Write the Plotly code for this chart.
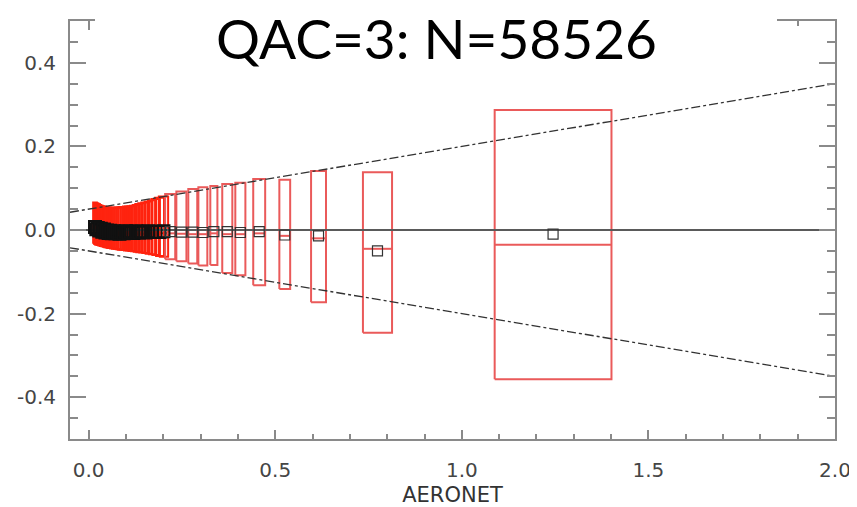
import plotly.graph_objects as go

# ---------------- data ----------------
# dense, heavily overlapping bins at low AOD
dense_lo = [0.012, 0.015, 0.019, 0.023, 0.027, 0.031, 0.035, 0.039, 0.043, 0.047,
            0.051, 0.055, 0.060, 0.065, 0.070, 0.075, 0.080, 0.086, 0.092, 0.098,
            0.104, 0.111, 0.118, 0.125, 0.133, 0.141, 0.150, 0.159, 0.168, 0.178, 0.188]
dense_hi = [0.022, 0.026, 0.030, 0.034, 0.038, 0.042, 0.047, 0.051, 0.055, 0.060,
            0.064, 0.069, 0.074, 0.079, 0.085, 0.090, 0.096, 0.102, 0.108, 0.115,
            0.122, 0.129, 0.137, 0.145, 0.153, 0.162, 0.171, 0.181, 0.191, 0.202, 0.213]
dense_top = [0.066, 0.064, 0.062, 0.060, 0.058, 0.057, 0.056, 0.055, 0.054, 0.054,
             0.053, 0.053, 0.053, 0.053, 0.054, 0.054, 0.055, 0.055, 0.056, 0.056,
             0.057, 0.058, 0.060, 0.062, 0.064, 0.066, 0.068, 0.071, 0.074, 0.077, 0.080]
dense_bot = [-0.033, -0.035, -0.036, -0.037, -0.038, -0.039, -0.040, -0.041, -0.042, -0.043,
             -0.043, -0.044, -0.045, -0.045, -0.046, -0.047, -0.047, -0.048, -0.049, -0.049,
             -0.050, -0.051, -0.052, -0.053, -0.054, -0.055, -0.057, -0.058, -0.060, -0.062, -0.064]
dense_mean = [0.007, 0.002, 0.005, -0.001, 0.003, -0.004, 0.001, -0.006, -0.001, -0.007,
              -0.002, -0.008, -0.003, -0.008, -0.004, -0.009, -0.004, -0.008, -0.003, -0.007,
              -0.004, -0.007, -0.003, -0.006, -0.004, -0.006, -0.003, -0.005, -0.004, -0.005, -0.003]
dense_med = [-0.001, -0.002, -0.003, -0.004, -0.005, -0.006, -0.007, -0.008, -0.009, -0.009,
             -0.010, -0.010, -0.011, -0.011, -0.011, -0.011, -0.011, -0.011, -0.010, -0.010,
             -0.010, -0.010, -0.009, -0.009, -0.009, -0.009, -0.008, -0.008, -0.008, -0.008, -0.008]

# sparser bins at higher AOD
bin_lo = [0.205, 0.235, 0.267, 0.294, 0.326, 0.358, 0.393, 0.441, 0.511, 0.596, 0.735, 1.088]
bin_hi = [0.232, 0.262, 0.291, 0.318, 0.345, 0.385, 0.420, 0.473, 0.540, 0.636, 0.813, 1.401]
bin_top = [0.086, 0.092, 0.098, 0.102, 0.105, 0.110, 0.113, 0.122, 0.120, 0.141, 0.138, 0.287]
bin_bot = [-0.070, -0.075, -0.080, -0.085, -0.084, -0.103, -0.108, -0.132, -0.141, -0.173, -0.246, -0.357]
bin_mean = [-0.004, -0.005, -0.005, -0.006, -0.004, -0.004, -0.006, -0.004, -0.012, -0.014, -0.050, -0.010]
bin_med = [-0.008, -0.009, -0.010, -0.010, -0.008, -0.010, -0.010, -0.008, -0.014, -0.020, -0.045, -0.035]

# expected-error envelope  +/-(0.05 + 0.15 * AERONET)
ee_x = [-0.05, 2.0]
ee_upper = [0.0425, 0.35]
ee_lower = [-0.0425, -0.35]
zero_x = [-0.05, 2.0]
zero_y = [0.0, 0.0]

x_ticks = [0.0, 0.5, 1.0, 1.5, 2.0]
x_ticktext = ["0.0", "0.5", "1.0", "1.5", "2.0"]
y_ticks = [-0.4, -0.2, 0.0, 0.2, 0.4]
y_ticktext = ["-0.4", "-0.2", "0.0", "0.2", "0.4"]

title_text = "QAC=3: N=58526"
x_title = "AERONET"


def rect_path(lo, hi, bot, top):
    xs, ys = [], []
    for a, b, c, d in zip(lo, hi, bot, top):
        xs += [a, b, b, a, a, None]
        ys += [c, c, d, d, c, None]
    return xs, ys


def med_path(lo, hi, med):
    xs, ys = [], []
    for a, b, m in zip(lo, hi, med):
        xs += [a, b, None]
        ys += [m, m, None]
    return xs, ys


fig = go.Figure()

dx, dy = rect_path(dense_lo, dense_hi, dense_bot, dense_top)
fig.add_trace(go.Scatter(x=dx, y=dy, mode="lines",
                         line=dict(color="rgb(255,35,15)", width=2), hoverinfo="skip"))
mx, my = med_path(dense_lo, dense_hi, dense_med)
fig.add_trace(go.Scatter(x=mx, y=my, mode="lines",
                         line=dict(color="rgb(255,35,15)", width=1.5), hoverinfo="skip"))

bx, by = rect_path(bin_lo, bin_hi, bin_bot, bin_top)
fig.add_trace(go.Scatter(x=bx, y=by, mode="lines",
                         line=dict(color="rgb(234,90,90)", width=2), hoverinfo="skip"))
bmx, bmy = med_path(bin_lo, bin_hi, bin_med)
fig.add_trace(go.Scatter(x=bmx, y=bmy, mode="lines",
                         line=dict(color="rgb(234,90,90)", width=2), hoverinfo="skip"))

# zero line and expected-error envelope
fig.add_trace(go.Scatter(x=zero_x, y=zero_y, mode="lines",
                         line=dict(color="#5a5a5a", width=2), hoverinfo="skip"))
for ee in (ee_upper, ee_lower):
    fig.add_trace(go.Scatter(x=ee_x, y=ee, mode="lines",
                             line=dict(color="#333333", width=1.3, dash="dashdot"),
                             hoverinfo="skip"))

# mean markers
dense_cx = [(a + b) / 2 for a, b in zip(dense_lo, dense_hi)]
bin_cx = [(a + b) / 2 for a, b in zip(bin_lo, bin_hi)]
fig.add_trace(go.Scatter(x=dense_cx, y=dense_mean, mode="markers",
                         marker=dict(symbol="square-open", size=12,
                                     color="#111111", line=dict(width=2)),
                         hoverinfo="skip"))
fig.add_trace(go.Scatter(x=bin_cx, y=bin_mean, mode="markers",
                         marker=dict(symbol="square-open", size=10,
                                     color="#333333", line=dict(width=1.2)),
                         hoverinfo="skip"))

axis_gray = "#8a8a8a"
tick_font = dict(family="DejaVu Sans", size=20, color="#454545")

fig.update_xaxes(range=[-0.05, 2.0], tickmode="array", tickvals=x_ticks, ticktext=x_ticktext,
                 ticks="inside", ticklen=9, tickwidth=1.5, tickcolor=axis_gray,
                 showline=True, linecolor=axis_gray, linewidth=2, mirror="ticks",
                 showgrid=False, zeroline=False, tickfont=tick_font, ticklabelstandoff=12,
                 automargin=False,
                 minor=dict(tickmode="linear", tick0=0, dtick=0.1, ticks="inside",
                            ticklen=5, tickwidth=1.5, tickcolor=axis_gray, showgrid=False),
                 title=dict(text=x_title, standoff=15,
                            font=dict(family="DejaVu Sans", size=21, color="#333333")))
fig.update_yaxes(range=[-0.5, 0.5], tickmode="array", tickvals=y_ticks, ticktext=y_ticktext,
                 ticks="inside", ticklen=16, tickwidth=1.5, tickcolor=axis_gray,
                 showline=True, linecolor=axis_gray, linewidth=2, mirror="ticks",
                 showgrid=False, zeroline=False, tickfont=tick_font, ticklabelstandoff=8,
                 automargin=False,
                 minor=dict(tickmode="linear", tick0=0, dtick=0.05, ticks="inside",
                            ticklen=8, tickwidth=1.5, tickcolor=axis_gray, showgrid=False))

# white band (the title's backdrop in the source slide) hiding the middle of the top frame
fig.add_shape(type="rect", xref="paper", yref="paper", layer="above",
              x0=(95 - 70) / 765, x1=(777 - 70) / 765,
              y0=1 - 20 / 418, y1=1 + 13 / 418,
              fillcolor="white", line=dict(width=0))

fig.add_annotation(text=title_text, xref="paper", yref="paper",
                   x=(436 - 70) / 765, y=1 - 17 / 418, xanchor="center", yanchor="middle",
                   borderpad=0, showarrow=False,
                   font=dict(family="Lato", size=55, color="black"))

fig.update_layout(width=849, height=499, showlegend=False,
                  paper_bgcolor="white", plot_bgcolor="white",
                  margin=dict(l=62, r=22, t=13, b=68))

fig.write_html("out.html")
